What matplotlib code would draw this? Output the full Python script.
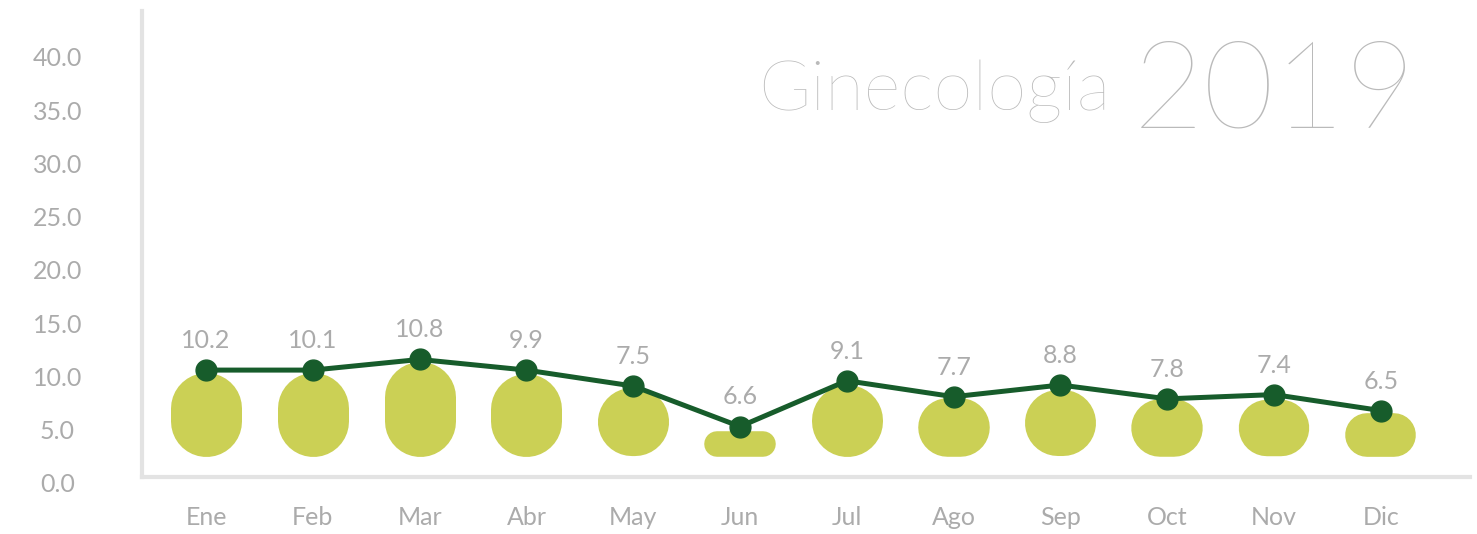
import matplotlib
matplotlib.use("Agg")
import matplotlib.pyplot as plt

months = ["Ene", "Feb", "Mar", "Abr", "May", "Jun", "Jul", "Ago", "Sep", "Oct", "Nov", "Dic"]
label_values = [10.2, 10.1, 10.8, 9.9, 7.5, 6.6, 9.1, 7.7, 8.8, 7.8, 7.4, 6.5]
line_values = [10.6, 10.6, 11.6, 10.6, 9.1, 5.3, 9.6, 8.1, 9.2, 7.9, 8.3, 6.8]
bar_tops = [10.4, 10.4, 11.4, 10.3, 8.9, 4.9, 9.2, 8.0, 8.7, 7.9, 7.8, 6.6]
bar_base = 2.5
yticks = [0, 5, 10, 15, 20, 25, 30, 35, 40]

GRAY = "#ababab"
LIGHT = "#e3e3e3"
BAR = "#cbd055"
GREEN = "#175c2b"
FONT = ["Lato", "DejaVu Sans"]

W, H, DPI = 1477, 534, 100
fig = plt.figure(figsize=(W / DPI, H / DPI), dpi=DPI)
plt.rcParams["font.family"] = FONT

# axes box in pixels
left_px, right_px, top_px, bot_px = 142, 1470, 11.2, 488.3
ax = fig.add_axes([left_px / W, (H - bot_px) / H, (right_px - left_px) / W, (bot_px - top_px) / H])
xlim = (-0.6, 11.835)
ylim = (-0.5, 44.3)
ax.set_xlim(*xlim)
ax.set_ylim(*ylim)

ppx = (right_px - left_px) / (xlim[1] - xlim[0])   # px per x unit
ppy = (bot_px - top_px) / (ylim[1] - ylim[0])      # px per y unit

# rounded bars drawn as thick lines with round caps
bar_w = 71
x = list(range(len(months)))
for xi, top in zip(x, bar_tops):
    h = (top - bar_base) * ppy
    if h >= bar_w:
        r = bar_w / 2 / ppy
        ax.plot([xi, xi], [bar_base + r, top - r], color=BAR, lw=bar_w * 0.72,
                solid_capstyle="round", zorder=2)
    else:
        dx = (bar_w - h) / 2 / ppx
        ym = (bar_base + top) / 2
        ax.plot([xi - dx, xi + dx], [ym, ym], color=BAR, lw=h * 0.72,
                solid_capstyle="round", zorder=2)

ax.plot(x, line_values, color=GREEN, lw=3.6, marker="o", ms=15, zorder=3)

for xi, yv, lab in zip(x, line_values, label_values):
    ax.annotate(f"{lab:.1f}", (xi, yv), xytext=(0, 13), textcoords="offset points",
                ha="center", va="bottom", color=GRAY, fontsize=18)

for s in ["top", "right"]:
    ax.spines[s].set_visible(False)
ax.spines["bottom"].set_position(("data", 0.56))
ax.spines["left"].set_bounds(0.56, 44.3)
for s in ["bottom", "left"]:
    ax.spines[s].set_color(LIGHT)
    ax.spines[s].set_linewidth(3)

ax.set_xticks(x)
ax.set_xticklabels(months)
ax.set_yticks(yticks)
ax.set_yticklabels([f"{v:.1f}" for v in yticks])
ax.tick_params(axis="x", length=0, pad=21, labelsize=18, labelcolor=GRAY)
ax.tick_params(axis="y", length=0, pad=61, labelsize=18, labelcolor=GRAY)
for t in ax.get_yticklabels():
    t.set_ha("center")

fig.text(1110 / W, (H - 110) / H, "Ginecología", ha="right", va="baseline",
         fontsize=51, color="#bababa", fontweight="light")
fig.text(1133 / W, (H - 128) / H, "2019", ha="left", va="baseline",
         fontsize=88, color="#bababa", fontweight="light")

fig.savefig("out.png", dpi=DPI, facecolor="white")
